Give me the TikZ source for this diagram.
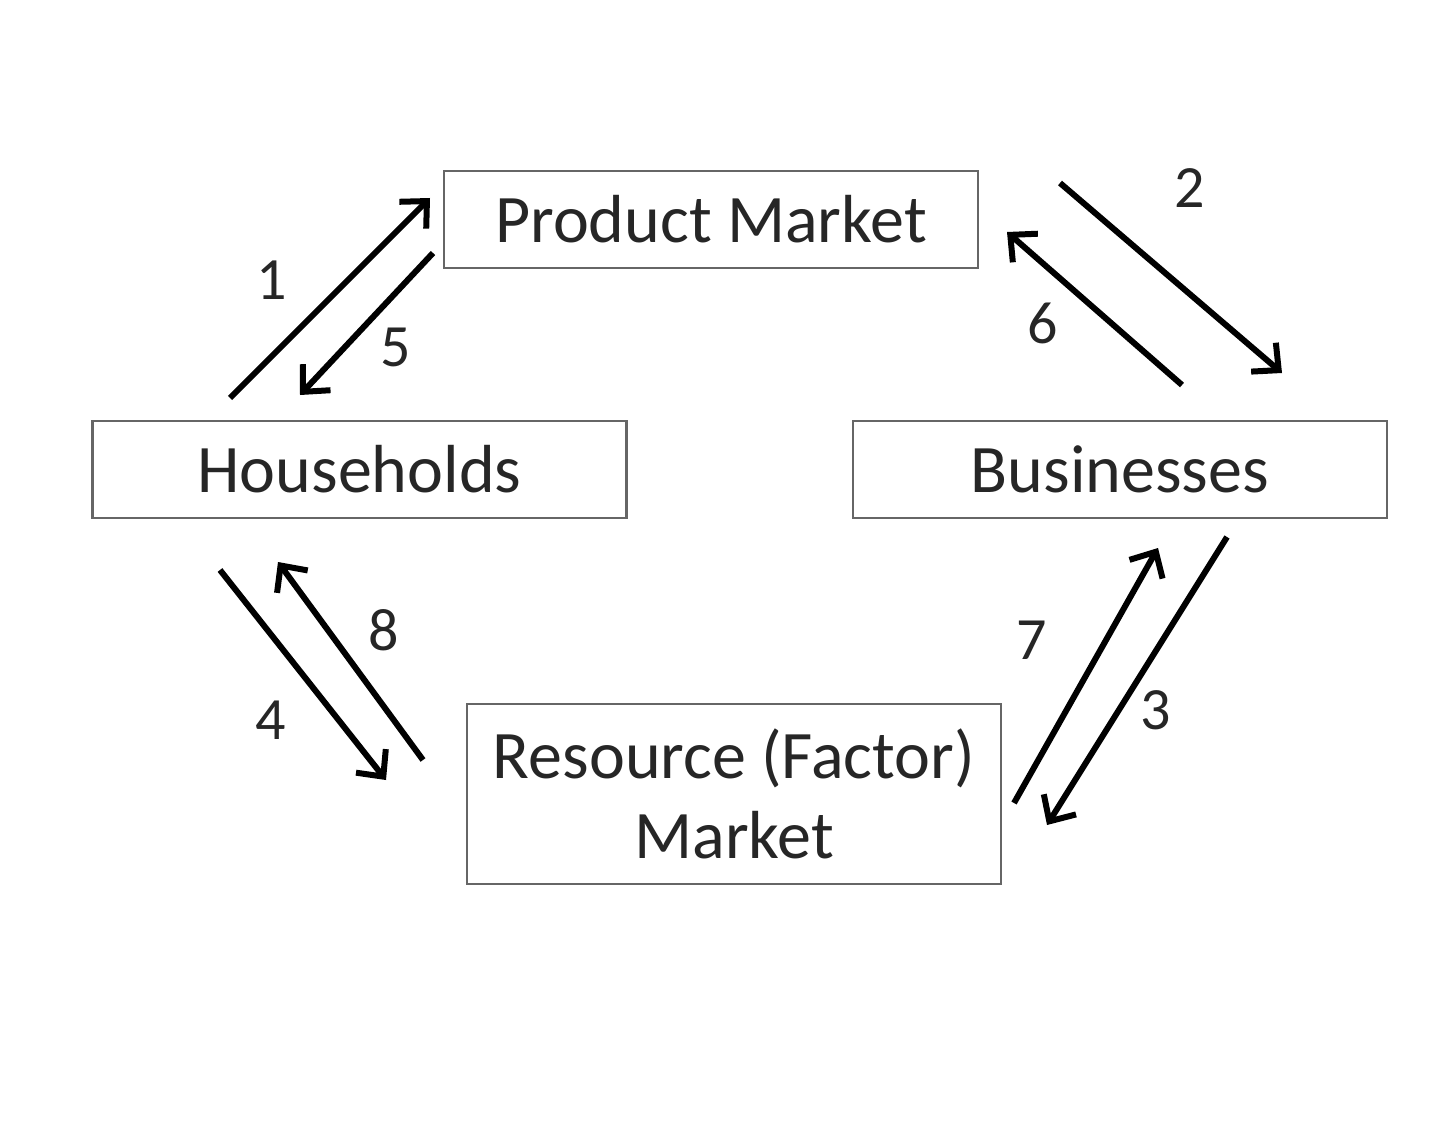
\documentclass[tikz,border=0pt]{standalone}
\usepackage{fontspec}
\setmainfont{Carlito}
\usetikzlibrary{arrows.meta}
\begin{document}
\begin{tikzpicture}[x=1pt,y=-1pt,
  box/.style={draw=black!60,line width=2.5pt,minimum width=534pt,inner sep=0pt,align=center,font=\fontsize{68}{80}\selectfont,text=black!85},
  flow/.style={line width=6pt,-{Straight Barb[length=20pt,width=38pt,line width=6pt]}},
  num/.style={font=\fontsize{60}{70}\selectfont,text=black!85}]
\useasboundingbox (0,0) rectangle (1440,1123);
\fill[white] (0,0) rectangle (1440,1123);
\node[box,minimum height=97pt] (pm) at (711,219.5) {Product Market};
\node[box,minimum height=97pt] (hh) at (359.5,469.5) {Households};
\node[box,minimum height=97pt] (bz) at (1120,469.5) {Businesses};
\node[box,minimum height=180pt] (rm) at (734,794) {Resource (Factor)\\Market};
% arrow endpoints
\coordinate (a1s) at (230,398); \coordinate (a1e) at (430,198);
\coordinate (a5s) at (433,253); \coordinate (a5e) at (300,395);
\coordinate (a2s) at (1060,183); \coordinate (a2e) at (1282,373);
\coordinate (a6s) at (1182,385); \coordinate (a6e) at (1007,232);
\coordinate (a4s) at (220,570); \coordinate (a4e) at (386,780);
\coordinate (a8s) at (423,760); \coordinate (a8e) at (278,562);
\coordinate (a7s) at (1014,803); \coordinate (a7e) at (1158,548);
\coordinate (a3s) at (1227,537); \coordinate (a3e) at (1047,825);
\draw[flow] (a1s) -- (a1e);
\draw[flow] (a5s) -- (a5e);
\draw[flow] (a2s) -- (a2e);
\draw[flow] (a6s) -- (a6e);
\draw[flow] (a4s) -- (a4e);
\draw[flow] (a8s) -- (a8e);
\draw[flow] (a7s) -- (a7e);
\draw[flow] (a3s) -- (a3e);
\node[num] (n1) at (272,280) {1};
\node[num] (n5) at (396,347) {5};
\node[num] (n2) at (1190,188) {2};
\node[num] (n6) at (1043,323) {6};
\node[num] (n4) at (271,720) {4};
\node[num] (n8) at (384,630) {8};
\node[num] (n7) at (1032,640) {7};
\node[num] (n3) at (1156,710) {3};
\end{tikzpicture}
\end{document}
